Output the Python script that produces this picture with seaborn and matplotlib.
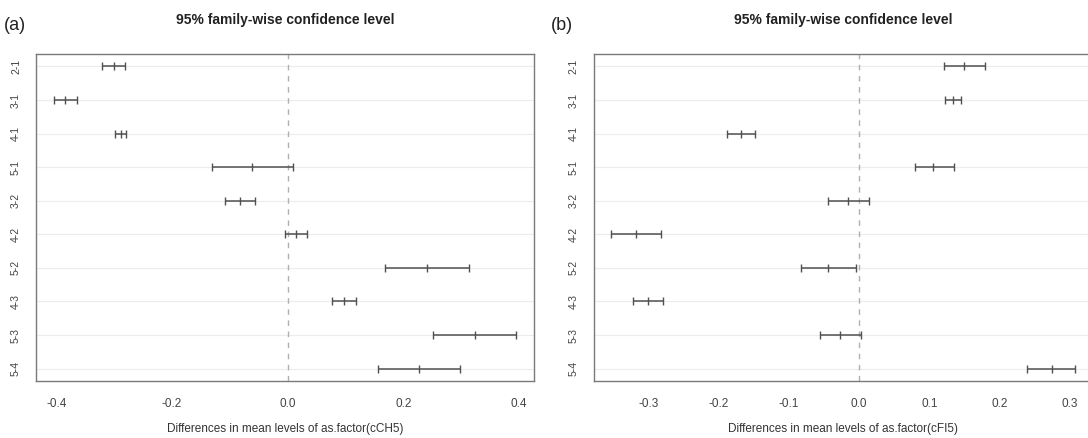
"""
Tukey HSD intervals for cCH5 and cFI5 (95% family-wise confidence level)
"""
import numpy as np
import pandas as pd
import seaborn as sns
import matplotlib
matplotlib.use("Agg")
import matplotlib.pyplot as plt

COMPARISONS = ['2-1', '3-1', '4-1', '5-1', '3-2', '4-2', '5-2', '4-3', '5-3', '5-4']

CH5_DIFF = [-0.301, -0.385, -0.288, -0.061, -0.082, 0.014, 0.241, 0.097, 0.324, 0.228]
CH5_LWR = [-0.321, -0.405, -0.298, -0.131, -0.108, -0.005, 0.169, 0.077, 0.252, 0.157]
CH5_UPR = [-0.282, -0.365, -0.279, 0.009, -0.056, 0.034, 0.313, 0.118, 0.396, 0.298]

FI5_DIFF = [0.150, 0.134, -0.168, 0.106, -0.016, -0.318, -0.044, -0.301, -0.027, 0.275]
FI5_LWR = [0.121, 0.123, -0.188, 0.079, -0.045, -0.353, -0.083, -0.323, -0.056, 0.240]
FI5_UPR = [0.179, 0.145, -0.148, 0.135, 0.014, -0.283, -0.004, -0.280, 0.002, 0.308]

CH5_TICKS = [-0.4, -0.2, 0.0, 0.2, 0.4]
FI5_TICKS = [-0.3, -0.2, -0.1, 0.0, 0.1, 0.2, 0.3]

sns.set_style("white")
plt.rcParams['font.family'] = ['Liberation Sans', 'DejaVu Sans']

INK = "#505050"
BOX = "#7a7a7a"


def plot_tukey(ax, diff, lwr, upr, xlim, xticks, xlabel):
    df = pd.DataFrame({'comp': COMPARISONS, 'diff': diff, 'lwr': lwr, 'upr': upr})
    df['y'] = np.arange(len(df), 0, -1)

    for y in df['y']:
        ax.axhline(y, color="#ececec", lw=0.8, zorder=0)
    ax.axvline(0, color="#b0b0b0", lw=1.0, ls=(0, (4, 4)), zorder=1)

    ax.errorbar(df['diff'], df['y'],
                xerr=[df['diff'] - df['lwr'], df['upr'] - df['diff']],
                fmt='none', ecolor=INK, elinewidth=1.1, capsize=3.2,
                capthick=1.0, zorder=3)
    sns.scatterplot(data=df, x='diff', y='y', marker='|', s=40, color=INK,
                    linewidth=1.0, ax=ax, zorder=4, legend=False)

    ax.set_xlim(*xlim)
    ax.set_ylim(0.64, len(df) + 0.36)
    ax.set_xticks(xticks)
    ax.set_xticklabels([f"{t:.1f}" for t in xticks])
    ax.set_yticks(df['y'])
    ax.set_yticklabels(df['comp'], rotation=90, va='center')
    ax.tick_params(axis='x', length=4.8, width=1.0, color=BOX, pad=8,
                   labelsize=8.5, labelcolor="#444444")
    ax.tick_params(axis='y', length=4.8, width=1.0, color=BOX, pad=6,
                   labelsize=7.5, labelcolor="#444444")
    for spine in ax.spines.values():
        spine.set_color(BOX)
        spine.set_linewidth(1.0)
    ax.set_xlabel(xlabel, fontsize=8.5, color="#333333", labelpad=9)
    ax.set_ylabel("")
    ax.set_title("95% family-wise confidence level", fontsize=10,
                 fontweight='bold', color="#222222", pad=22)


fig = plt.figure(figsize=(10.88, 4.38), dpi=100)
ax_a = fig.add_axes([36 / 1088, 1 - 380.7 / 438, 498 / 1088, 326.4 / 438])
ax_b = fig.add_axes([593.6 / 1088, 1 - 380.7 / 438, 499.8 / 1088, 326.4 / 438])

plot_tukey(ax_a, CH5_DIFF, CH5_LWR, CH5_UPR, (-0.4355, 0.4263), CH5_TICKS,
           "Differences in mean levels of as.factor(cCH5)")
plot_tukey(ax_b, FI5_DIFF, FI5_LWR, FI5_UPR, (-0.3785, 0.334), FI5_TICKS,
           "Differences in mean levels of as.factor(cFI5)")

fig.text(4 / 1088, 1 - 25 / 438, "(a)", fontsize=13, va='center', ha='left', color="#222222")
fig.text(551 / 1088, 1 - 25 / 438, "(b)", fontsize=13, va='center', ha='left', color="#222222")

fig.savefig("out.png", dpi=100)
